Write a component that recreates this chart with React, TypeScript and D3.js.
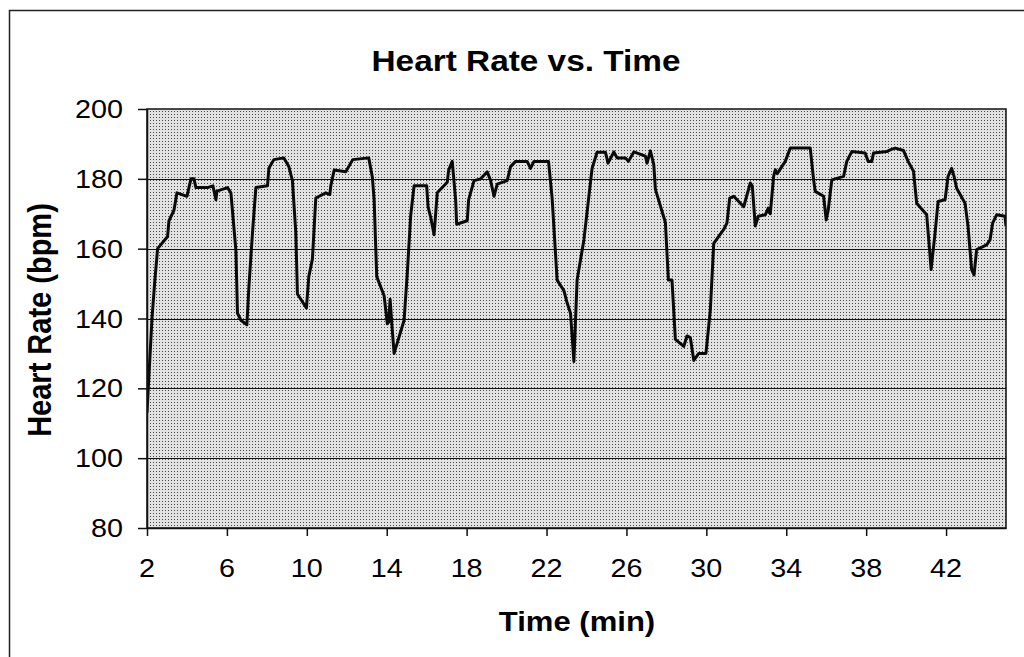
import * as d3 from "d3";
import { useEffect, useRef } from "react";

// time in minutes and heart rate (bpm)
const timeMin = [
  2.0, 2.1, 2.25, 2.38, 2.53, 3.03, 3.1, 3.35, 3.5, 4.0, 4.2, 4.35, 4.45, 5.03, 5.3, 5.45, 5.5, 6.03, 6.2, 6.45,
  6.53, 6.7, 7.0, 7.1, 7.28, 7.45, 8.03, 8.1, 8.35, 8.85, 9.1, 9.28, 9.45, 9.53, 9.7, 9.98, 10.1, 10.28, 10.45, 10.95,
  11.15, 11.2, 11.37, 11.95, 12.3, 13.1, 13.28, 13.37, 13.5, 13.87, 14.03, 14.1, 14.17, 14.28, 14.37, 14.87, 15.03, 15.2, 15.37, 16.0,
  16.07, 16.2, 16.37, 16.53, 17.03, 17.1, 17.28, 17.45, 17.5, 18.03, 18.1, 18.37, 18.7, 19.03, 19.2, 19.37, 19.53, 20.03, 20.2, 20.45,
  21.03, 21.2, 21.37, 22.1, 22.28, 22.53, 22.87, 23.03, 23.2, 23.37, 23.53, 23.87, 24.1, 24.28, 24.53, 24.95, 25.08, 25.37, 25.53, 25.95,
  26.1, 26.37, 26.95, 27.03, 27.2, 27.37, 27.45, 27.95, 28.1, 28.28, 28.45, 28.87, 29.03, 29.2, 29.37, 29.62, 29.98, 30.2, 30.37, 30.87,
  31.03, 31.17, 31.37, 31.87, 32.2, 32.3, 32.45, 32.6, 32.95, 33.1, 33.2, 33.37, 33.45, 33.55, 33.95, 34.2, 35.2, 35.37, 35.45, 35.87,
  36.0, 36.1, 36.28, 36.87, 37.03, 37.28, 37.95, 38.1, 38.28, 38.37, 39.03, 39.2, 39.45, 39.87, 40.1, 40.37, 40.53, 41.03, 41.2, 41.25,
  41.45, 41.6, 41.95, 42.1, 42.28, 42.4, 42.53, 42.95, 43.1, 43.28, 43.4, 43.53, 44.03, 44.2, 44.33, 44.53, 44.95, 45.0,
];
const heartRate = [
  113, 124, 140, 150, 160, 163.5, 168, 171, 176, 175, 180, 180, 177.5, 177.5, 178, 174, 176.5, 177.5, 176, 159.5,
  141.5, 139.5, 138.2, 149, 164.5, 177.5, 178, 183, 185.5, 186, 183.5, 179.5, 164.5, 147, 145.5, 143, 152, 157, 174.5, 176,
  175.5, 178, 182.5, 182, 185.5, 186, 180.5, 174, 152, 146.5, 138.5, 139, 145.5, 136.5, 130, 139.5, 153, 169.5, 178, 178,
  172, 169, 164, 176, 179, 182.5, 185, 174, 167, 168, 174, 179.5, 180, 182, 179.5, 175, 178.5, 179.5, 183.5, 185,
  185, 183, 185, 185, 174.5, 151, 148, 144.5, 141.5, 127.7, 151, 162.5, 174, 183, 187.6, 187.6, 184.5, 187.7, 186, 186,
  185, 187.7, 186.5, 184.5, 188, 184, 177, 167.5, 151, 151, 134, 132, 135, 134.5, 128, 130, 130, 142.5, 161.5, 165.5,
  167.3, 174.5, 175, 172, 178.8, 178, 166.5, 169.3, 169.7, 171.6, 170, 180.8, 182.6, 181.5, 185, 188.8, 188.8, 179.7, 176.4, 175,
  168.2, 171, 179.7, 180.7, 185, 187.8, 187.4, 185, 185, 187.4, 187.8, 188.3, 188.8, 188.1, 185, 182.2, 173, 169.7, 157.8, 154,
  164.5, 173.5, 174, 180.7, 183, 180.7, 177.3, 173, 166.4, 154, 152.5, 159.7, 161.1, 162.5, 167.3, 169.7, 169.3, 166.4,
];
const xTicks = [2, 6, 10, 14, 18, 22, 26, 30, 34, 38, 42];
const yTicks = [80, 100, 120, 140, 160, 180, 200];

const W = 1024;
const H = 657;
const margin = { top: 109, bottom: 129, left: 147, right: 18 };
const font = "'Liberation Sans', Arial, sans-serif";
const sx = 1.15; // the scanned chart is a bit wider than tall

const App = () => {
  const ref = useRef<SVGSVGElement>(null);

  useEffect(() => {
    const svg = d3.select(ref.current);
    svg.selectAll("*").remove();

    const boundsW = W - margin.left - margin.right;
    const boundsH = H - margin.top - margin.bottom;

    const x = d3.scaleLinear().domain([2, 45]).range([margin.left, margin.left + boundsW]);
    const y = d3.scaleLinear().domain([80, 200]).range([margin.top + boundsH, margin.top]);

    svg.append("rect").attr("width", W).attr("height", H).attr("fill", "#fff");

    // outer frame (only top and left edges are in view)
    svg.append("path")
      .attr("d", `M9.5,${H} V10.5 H${W}`)
      .attr("fill", "none")
      .attr("stroke", "#222")
      .attr("stroke-width", 1.5);

    // dotted gray plot background
    const defs = svg.append("defs");
    const pat = defs.append("pattern")
      .attr("id", "dots")
      .attr("width", 3)
      .attr("height", 3)
      .attr("patternUnits", "userSpaceOnUse");
    pat.append("rect").attr("width", 3).attr("height", 3).attr("fill", "#e2e2e2");
    pat.append("rect").attr("width", 1).attr("height", 1).attr("fill", "#4a4a4a");

    defs.append("clipPath").attr("id", "plotClip")
      .append("rect")
      .attr("x", margin.left).attr("y", margin.top)
      .attr("width", boundsW).attr("height", boundsH);

    svg.append("rect")
      .attr("x", margin.left).attr("y", margin.top)
      .attr("width", boundsW).attr("height", boundsH)
      .attr("fill", "url(#dots)")
      .attr("shape-rendering", "crispEdges");

    // gridlines
    svg.append("g")
      .selectAll("line")
      .data(yTicks.slice(1, -1))
      .enter()
      .append("line")
      .attr("x1", margin.left).attr("x2", margin.left + boundsW)
      .attr("y1", d => Math.round(y(d)) + 0.5).attr("y2", d => Math.round(y(d)) + 0.5)
      .attr("stroke", "#111")
      .attr("stroke-width", 1);

    // heart rate line
    const pts = timeMin.map((t, i) => [t, heartRate[i]] as [number, number]);
    const line = d3.line<[number, number]>().x(d => x(d[0])).y(d => y(d[1]));
    svg.append("path")
      .datum(pts)
      .attr("clip-path", "url(#plotClip)")
      .attr("d", line)
      .attr("fill", "none")
      .attr("stroke", "#0a0a0a")
      .attr("stroke-width", 3)
      .attr("stroke-linejoin", "round");

    // plot border
    svg.append("rect")
      .attr("x", margin.left).attr("y", margin.top)
      .attr("width", boundsW).attr("height", boundsH)
      .attr("fill", "none")
      .attr("stroke", "#111")
      .attr("stroke-width", 1.5);

    // axes
    const xAxis = d3.axisBottom(x).tickValues(xTicks).tickSize(8).tickSizeOuter(0).tickFormat(d => "");
    svg.append("g")
      .attr("transform", `translate(0, ${margin.top + boundsH})`)
      .call(xAxis)
      .call(g => g.select(".domain").attr("stroke", "#111").attr("stroke-width", 1.5))
      .call(g => g.selectAll(".tick line").attr("stroke", "#111").attr("stroke-width", 1.5));

    const yAxis = d3.axisLeft(y).tickValues(yTicks).tickSize(9).tickSizeOuter(0).tickFormat(d => "");
    svg.append("g")
      .attr("transform", `translate(${margin.left}, 0)`)
      .call(yAxis)
      .call(g => g.select(".domain").attr("stroke", "#111").attr("stroke-width", 1.5))
      .call(g => g.selectAll(".tick line").attr("stroke", "#111").attr("stroke-width", 1.5));

    // text helper, stretched horizontally like the scan
    const label = (txt: string, tx: number, ty: number, size: number, anchor: string, bold: boolean, rot = 0) => {
      svg.append("text")
        .attr("transform", `translate(${tx},${ty}) scale(${sx},1) rotate(${rot})`)
        .attr("text-anchor", anchor)
        .attr("font-family", font)
        .attr("font-size", size)
        .attr("font-weight", bold ? "bold" : "normal")
        .attr("fill", "#000")
        .text(txt);
    };

    xTicks.forEach(t => label(String(t), x(t), 577, 25, "middle", false));
    yTicks.forEach(v => label(String(v), 123, y(v) + 9, 25, "end", false));

    label("Heart Rate vs. Time", 526, 71, 29, "middle", true);
    label("Heart Rate (bpm)", 51, 320, 29, "middle", true, -90);
    label("Time (min)", 577, 631, 27, "middle", true);
  }, []);

  return (
    <svg
      ref={ref}
      width={W}
      height={H}
      style={{ position: "absolute", left: 0, top: 0, display: "block" }}
    ></svg>
  );
};

export default App;
